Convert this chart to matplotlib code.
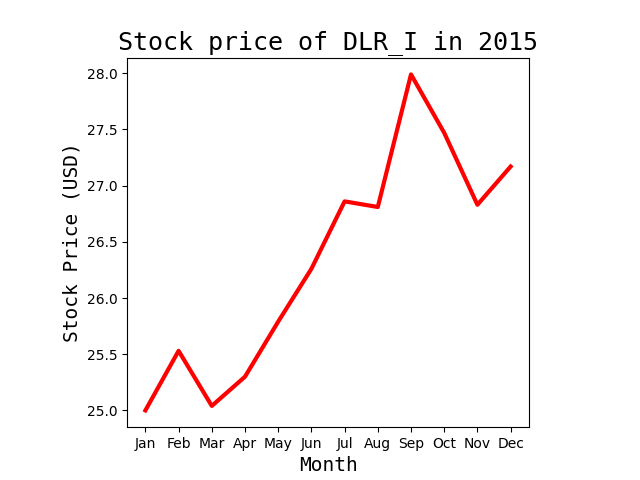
import matplotlib
matplotlib.use("Agg")
import matplotlib.pyplot as plt

# Monthly stock price readings for DLR_I, 2015
months = ["Jan", "Feb", "Mar", "Apr", "May", "Jun",
          "Jul", "Aug", "Sep", "Oct", "Nov", "Dec"]
prices = [25.00, 25.53, 25.04, 25.30, 25.79, 26.26,
          26.86, 26.81, 27.99, 27.47, 26.83, 27.17]

fig, ax = plt.subplots(figsize=(6.4, 4.8), dpi=100)
ax.plot(months, prices, color="red", linewidth=3)
ax.set_box_aspect(368 / 400)
ax.set_title("Stock price of DLR_I in 2015", fontsize=18, family="monospace")
ax.set_xlabel("Month", fontsize=14, family="monospace")
ax.set_ylabel("Stock Price (USD)", fontsize=14, family="monospace")

fig.savefig("out.png", dpi=100)
